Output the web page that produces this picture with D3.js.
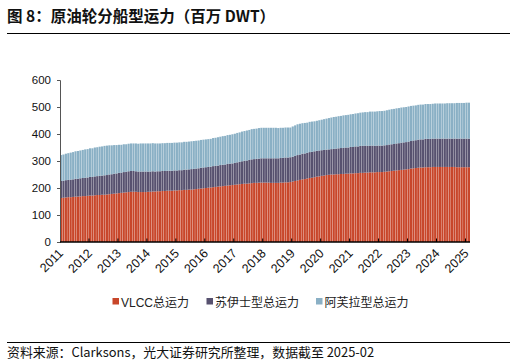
<!DOCTYPE html>
<html><head><meta charset="utf-8">
<script src="https://cdn.jsdelivr.net/npm/d3@7"></script>
<style>
body{margin:0;background:#fff;}
svg{display:block;}
text{font-family:"Liberation Sans","Noto Sans CJK SC",sans-serif;}
</style></head>
<body><svg id="c" width="516" height="364"></svg>
<script>
const startYear = 2011;
const yearLabels = ["2011","2012","2013","2014","2015","2016","2017","2018","2019","2020","2021","2022","2023","2024","2025"];
const yTicks = [0,100,200,300,400,500,600];
const seriesNames = ["VLCC总运力","苏伊士型总运力","阿芙拉型总运力"];
const seriesColors = ["#C8462A","#57516F","#8AB0C5"];
// Monthly values 2011-01 .. 2025-02 (million DWT)
const vlcc = [
163,164,165,166,166,167,168,168,169,170,170,171,
172,172,173,174,174,175,175,176,177,178,179,180,
181,182,183,184,185,186,186,186,185,185,185,185,
186,186,187,187,188,188,189,189,190,190,190,191,
191,192,192,193,193,194,194,195,196,197,198,199,
200,201,202,203,204,205,206,207,208,209,210,211,
212,213,214,215,216,216,217,218,219,219,220,220,
220,220,220,219,219,219,219,220,220,221,221,222,
224,226,228,230,232,233,235,237,238,240,242,243,
245,246,248,249,250,250,251,251,252,252,253,253,
254,254,255,255,256,256,257,257,258,258,258,259,
259,259,260,261,262,263,264,265,266,267,268,269,
270,272,273,274,275,276,276,277,277,277,278,278,
278,278,278,278,278,278,278,278,277,277,277,277,
277,277];
const suezmax = [
63,63,64,64,65,65,66,66,67,67,68,68,
69,69,70,70,71,71,72,72,73,73,74,74,
75,75,76,76,77,77,77,76,76,76,76,76,
75,75,75,74,74,74,74,74,74,74,74,74,
74,74,74,75,75,75,76,76,76,76,77,77,
77,77,77,78,78,78,79,79,79,80,80,80,
81,82,83,84,85,86,87,88,88,89,89,90,
90,90,90,91,91,91,91,91,92,92,92,92,
92,93,94,94,95,95,95,96,96,96,96,96,
95,95,94,94,94,95,95,96,96,97,97,97,
98,98,99,99,100,100,100,99,99,99,98,98,
98,98,98,98,99,99,99,100,100,101,101,101,
102,102,103,103,104,104,104,105,105,105,105,105,
105,105,105,105,105,105,105,105,106,106,106,106,
106,106];
const aframax = [
96,97,98,99,100,101,102,103,103,104,105,105,
106,106,107,107,108,108,109,109,108,107,106,105,
104,103,103,102,102,102,102,103,103,104,104,104,
104,104,104,104,103,103,103,103,103,103,103,103,
103,103,103,103,103,103,103,103,103,103,103,103,
103,103,103,104,104,105,105,106,106,107,107,108,
108,109,109,110,110,111,111,112,112,112,113,113,
113,113,113,113,113,113,112,112,111,111,111,110,
112,113,114,114,113,113,112,112,112,111,111,112,
113,114,115,116,117,118,118,119,119,120,120,121,
121,122,122,123,123,124,124,125,126,126,127,127,
128,128,128,129,129,130,130,130,130,130,130,130,
130,130,129,129,129,129,129,129,129,129,129,130,
130,130,130,130,131,131,131,131,132,132,132,132,
133,133];

const months = vlcc.map((_, i) => {
  const yr = startYear + Math.floor(i / 12), m = i % 12 + 1;
  return yr + "-" + String(m).padStart(2, "0");
});
const rows = months.map((m, i) => ({month: m, vlcc: vlcc[i], suezmax: suezmax[i], aframax: aframax[i]}));

const svg = d3.select("#c");
const mL = 60, mR = 470, mT = 80, mB = 242;

const x = d3.scaleBand().domain(months).range([mL, mR]).paddingInner(0.12).paddingOuter(0);
const y = d3.scaleLinear().domain([0, 600]).range([mB, mT]);

const stack = d3.stack().keys(["vlcc","suezmax","aframax"]);
const layers = stack(rows);

// Title
svg.append("text").attr("x", 7).attr("y", 22).attr("font-size", 15.5).attr("font-weight", "bold")
  .attr("fill", "#111").style("font-family", "'Noto Sans CJK SC',sans-serif")
  .text("图 8：原油轮分船型运力（百万 DWT）");
svg.append("line").attr("x1", 7).attr("x2", 510).attr("y1", 33.5).attr("y2", 33.5).attr("stroke", "#000").attr("stroke-width", 1);

// Bars
svg.append("g").selectAll("g").data(layers).join("g")
  .attr("fill", (d, i) => seriesColors[i])
  .selectAll("rect").data(d => d).join("rect")
  .attr("x", d => x(d.data.month))
  .attr("width", x.bandwidth())
  .attr("y", d => y(d[1]))
  .attr("height", d => y(d[0]) - y(d[1]));

// Y axis
const yAxis = d3.axisLeft(y).tickValues(yTicks).tickSize(3).tickPadding(6);
const gy = svg.append("g").attr("transform", `translate(${mL},0)`).call(yAxis);
gy.select(".domain").attr("stroke", "#555");
gy.selectAll(".tick line").attr("stroke", "#555");
gy.selectAll("text").attr("font-size", 11.5).attr("fill", "#111").style("font-family", "'Liberation Sans',sans-serif");

// X axis
const yearStarts = yearLabels.map(yl => yl + "-01");
const gx = svg.append("g").attr("transform", `translate(0,${mB})`);
gx.append("line").attr("x1", mL).attr("x2", mR).attr("stroke", "#000").attr("stroke-width", 1.3);
gx.selectAll("line.tk").data(yearStarts.slice(1)).join("line").attr("class", "tk")
  .attr("x1", d => x(d)).attr("x2", d => x(d)).attr("y1", 0).attr("y2", -3.5)
  .attr("stroke", "#000").attr("stroke-width", 1);
gx.selectAll("text").data(yearStarts).join("text")
  .attr("transform", d => `translate(${x(d) + 4},${12}) rotate(-45)`)
  .attr("text-anchor", "end").attr("font-size", 12.5).attr("fill", "#111")
  .text(d => d.slice(0, 4));

// Legend
const legX = [112.5, 206.5, 316];
const lg = svg.append("g");
seriesNames.forEach((n, i) => {
  lg.append("rect").attr("x", legX[i]).attr("y", 298).attr("width", 6.5).attr("height", 6.5).attr("fill", seriesColors[i]);
  lg.append("text").attr("x", legX[i] + 8.5).attr("y", 306.5).attr("font-size", 12).attr("fill", "#222").text(n);
});

// Bottom line and source
svg.append("line").attr("x1", 7).attr("x2", 510).attr("y1", 342.5).attr("y2", 342.5).attr("stroke", "#000").attr("stroke-width", 1);
svg.append("text").attr("x", 7).attr("y", 357).attr("font-size", 12.9).attr("fill", "#111")
  .style("font-family", "'Noto Sans CJK SC',sans-serif")
  .text("资料来源：Clarksons，光大证券研究所整理，数据截至 2025-02");
</script></body></html>
